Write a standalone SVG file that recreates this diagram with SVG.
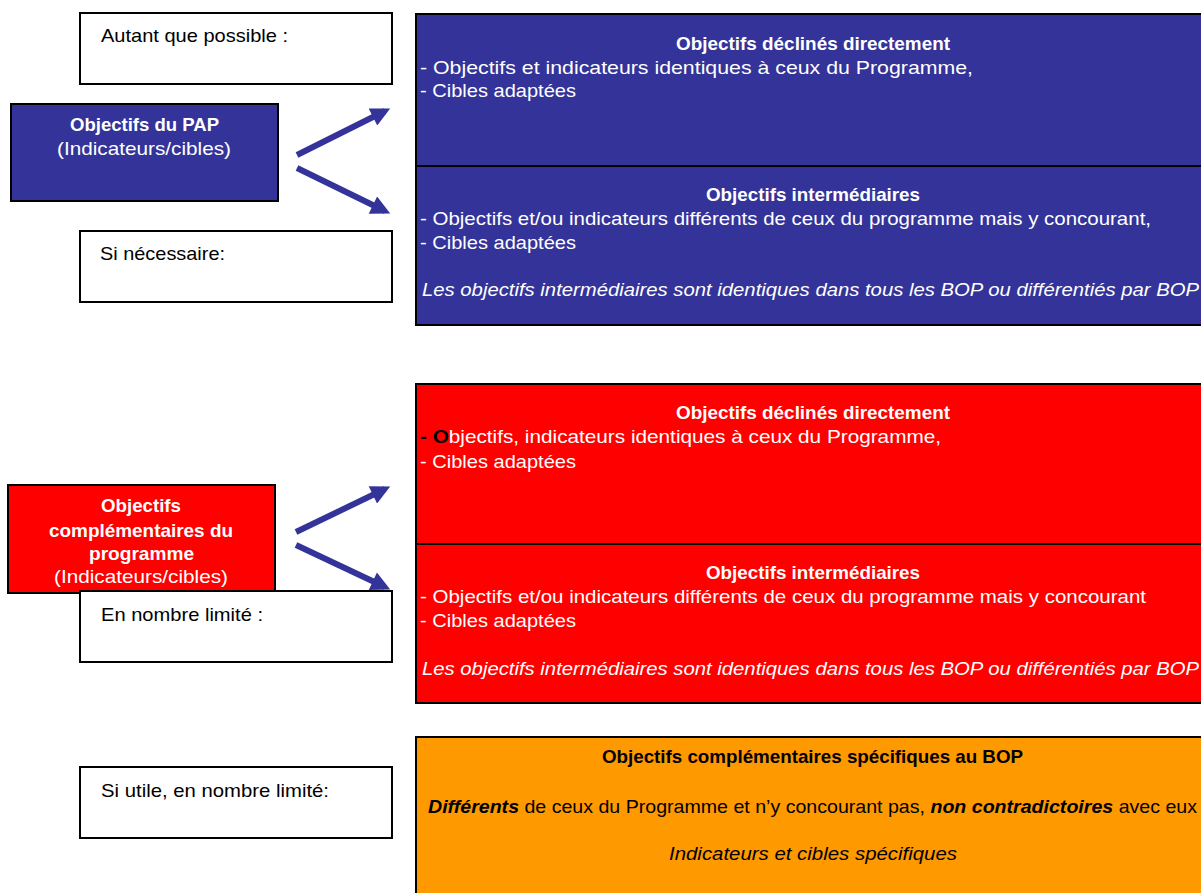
<svg xmlns="http://www.w3.org/2000/svg" width="1201" height="893" viewBox="0 0 1201 893">
<style>
text{font-family:"Liberation Sans",Arial,sans-serif;font-size:19px}
.w{fill:#fff}
.k{fill:#000}
.b{font-weight:bold}
.i{font-style:italic}
.lbl{fill:#fff;stroke:#000;stroke-width:2}
.blue{fill:#333399;stroke:#000;stroke-width:2}
.red{fill:#ff0000;stroke:#000;stroke-width:2}
.org{fill:#ff9900;stroke:#000;stroke-width:2}
.arr{stroke:#333399;stroke-width:6;fill:none;marker-end:url(#ah)}
</style>
<defs>
<marker id="ah" viewBox="0 0 10 10" refX="7" refY="5" markerWidth="4" markerHeight="3.2" orient="auto" markerUnits="strokeWidth">
<path d="M0,0 L10,5 L0,10 z" fill="#333399"/>
</marker>
</defs>
<rect width="1201" height="893" fill="#fff"/>
<g id="connectors">
<line class="arr" x1="297" y1="155" x2="385" y2="111"/>
<line class="arr" x1="297" y1="168" x2="385" y2="211"/>
<line class="arr" x1="296" y1="532" x2="385" y2="489"/>
<line class="arr" x1="296" y1="545" x2="385" y2="587"/>
</g>
<g id="autant">
<rect class="lbl" x="80" y="13" width="312" height="71"/>
<text class="k" x="101" y="42" textLength="187" lengthAdjust="spacingAndGlyphs">Autant que possible :</text>
</g>
<g id="pap">
<rect class="blue" x="11" y="104" width="267" height="97"/>
<text class="w b" x="70" y="131" textLength="149" lengthAdjust="spacingAndGlyphs">Objectifs du PAP</text>
<text class="w" x="57" y="155" textLength="174" lengthAdjust="spacingAndGlyphs">(Indicateurs/cibles)</text>
</g>
<g id="necessaire">
<rect class="lbl" x="80" y="231" width="312" height="71"/>
<text class="k" x="100" y="260" textLength="125" lengthAdjust="spacingAndGlyphs">Si nécessaire:</text>
</g>
<g id="blue-direct">
<rect class="blue" x="416" y="14" width="800" height="152"/>
<text class="w b" x="676" y="50" textLength="274" lengthAdjust="spacingAndGlyphs">Objectifs déclinés directement</text>
<text class="w" x="420" y="74" textLength="553" lengthAdjust="spacingAndGlyphs">- Objectifs et indicateurs identiques à ceux du Programme,</text>
<text class="w" x="420" y="97" textLength="156" lengthAdjust="spacingAndGlyphs">- Cibles adaptées</text>
</g>
<g id="blue-inter">
<rect class="blue" x="416" y="166" width="800" height="159"/>
<text class="w b" x="706" y="201" textLength="214" lengthAdjust="spacingAndGlyphs">Objectifs intermédiaires</text>
<text class="w" x="420" y="225" textLength="731" lengthAdjust="spacingAndGlyphs">- Objectifs et/ou indicateurs différents de ceux du programme mais y concourant,</text>
<text class="w" x="420" y="249" textLength="156" lengthAdjust="spacingAndGlyphs">- Cibles adaptées</text>
<text class="w i" x="422" y="296" textLength="777" lengthAdjust="spacingAndGlyphs">Les objectifs intermédiaires sont identiques dans tous les BOP ou différentiés par BOP</text>
</g>
<g id="complementaires">
<rect class="red" x="8" y="485" width="267" height="108"/>
<text class="w b" x="101" y="512" textLength="80" lengthAdjust="spacingAndGlyphs">Objectifs</text>
<text class="w b" x="49" y="537" textLength="184" lengthAdjust="spacingAndGlyphs">complémentaires du</text>
<text class="w b" x="89" y="560" textLength="105" lengthAdjust="spacingAndGlyphs">programme</text>
<text class="w" x="54" y="583" textLength="174" lengthAdjust="spacingAndGlyphs">(Indicateurs/cibles)</text>
</g>
<g id="limite">
<rect class="lbl" x="80" y="591" width="312" height="71"/>
<text class="k" x="101" y="621" textLength="162" lengthAdjust="spacingAndGlyphs">En nombre limité :</text>
</g>
<g id="red-direct">
<rect class="red" x="416" y="384" width="800" height="160"/>
<text class="w b" x="676" y="419" textLength="274" lengthAdjust="spacingAndGlyphs">Objectifs déclinés directement</text>
<text class="w" x="420" y="443" textLength="521" lengthAdjust="spacingAndGlyphs"><tspan class="k b">- O</tspan>bjectifs, indicateurs identiques à ceux du Programme,</text>
<text class="w" x="420" y="468" textLength="156" lengthAdjust="spacingAndGlyphs">- Cibles adaptées</text>
</g>
<g id="red-inter">
<rect class="red" x="416" y="544" width="800" height="159"/>
<text class="w b" x="706" y="579" textLength="214" lengthAdjust="spacingAndGlyphs">Objectifs intermédiaires</text>
<text class="w" x="420" y="603" textLength="726" lengthAdjust="spacingAndGlyphs">- Objectifs et/ou indicateurs différents de ceux du programme mais y concourant</text>
<text class="w" x="420" y="627" textLength="156" lengthAdjust="spacingAndGlyphs">- Cibles adaptées</text>
<text class="w i" x="422" y="675" textLength="777" lengthAdjust="spacingAndGlyphs">Les objectifs intermédiaires sont identiques dans tous les BOP ou différentiés par BOP</text>
</g>
<g id="utile">
<rect class="lbl" x="80" y="767" width="312" height="71"/>
<text class="k" x="101" y="797" textLength="228" lengthAdjust="spacingAndGlyphs">Si utile, en nombre limité:</text>
</g>
<g id="specifiques">
<rect class="org" x="416" y="737" width="800" height="170"/>
<text class="k b" x="602" y="763" textLength="421" lengthAdjust="spacingAndGlyphs">Objectifs complémentaires spécifiques au BOP</text>
<text class="k" x="428" y="813" textLength="769" lengthAdjust="spacingAndGlyphs"><tspan class="b i">Différents</tspan> de ceux du Programme et n’y concourant pas, <tspan class="b i">non contradictoires</tspan> avec eux</text>
<text class="k i" x="669" y="860" textLength="288" lengthAdjust="spacingAndGlyphs">Indicateurs et cibles spécifiques</text>
</g>
</svg>
